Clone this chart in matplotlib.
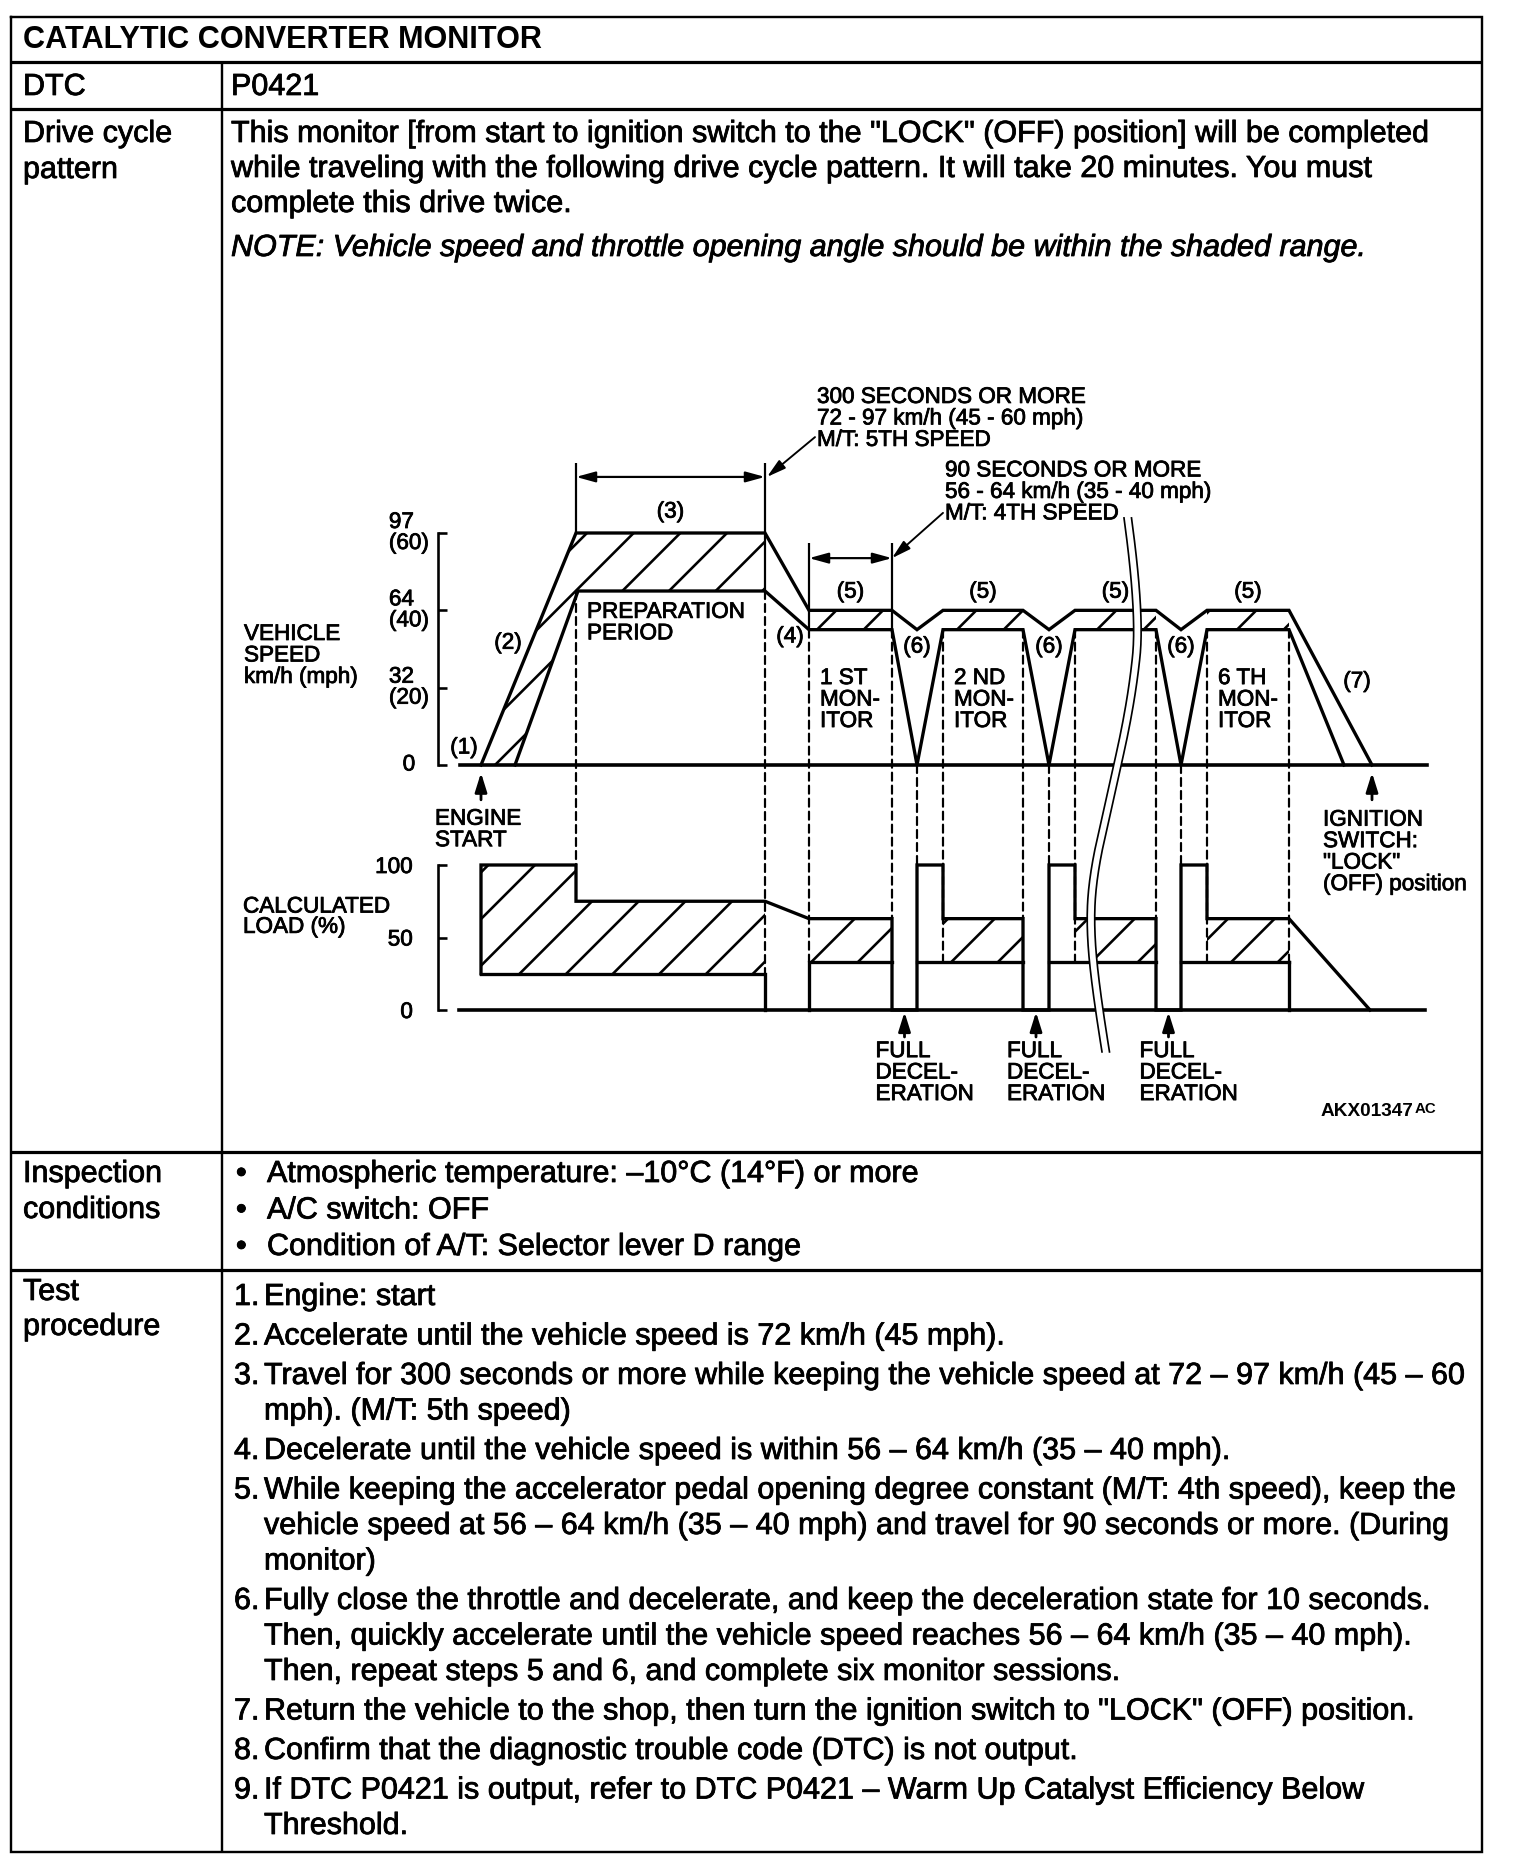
import numpy as np
import matplotlib
matplotlib.use("Agg")
import matplotlib.pyplot as plt
import matplotlib.patheffects as pe
from matplotlib.patches import Polygon, Rectangle, ConnectionPatch

DPI = 140
W, H = 1520, 1866


def pt(px):
    # pixels -> points at the output dpi
    return px * 72.0 / DPI


plt.rcParams["font.family"] = ["Liberation Sans", "DejaVu Sans"]
plt.rcParams["hatch.linewidth"] = pt(2.6)
plt.rcParams["lines.scale_dashes"] = False
plt.rcParams["lines.solid_joinstyle"] = "miter"

# ---------------- data ----------------
# schematic time axis in arbitrary units, engine start = 0
t_accel = 9.5
t_prep = 28.4
monitor_t = [(32.8, 41.1), (46.2, 54.2), (59.4, 67.5), (72.6, 80.8)]
decel_t = [43.6, 56.8, 70.0]
t_ign_off = 89.1

# vehicle speed window (mph scale, 0/20/40/60 equally spaced)
spd_upper_t = [0.0, 9.5, 28.4, 32.8, 41.1, 43.6, 46.2, 54.2, 56.8, 59.4, 67.5, 70.0, 72.6, 80.8, 89.1]
spd_upper_mph = [0, 60, 60, 40, 40, 35, 40, 40, 35, 40, 40, 35, 40, 40, 0]
spd_lower_t = [3.4, 9.7, 28.4, 32.8, 41.1, 43.6, 46.2, 54.2, 56.8, 59.4, 67.5, 70.0, 72.6, 80.8, 86.3]
spd_lower_mph = [0, 45, 45, 35, 35, 0, 35, 35, 0, 35, 35, 0, 35, 35, 0]
prep_band = (45, 60)
mon_band = (35, 40)

speed_ticks = [0, 20, 40, 60]
speed_tick_labels = ["0", "32\n(20)", "64\n(40)", "97\n(60)"]

# calculated load (%)
load_upper_t = [0, 0, 9.5, 9.5, 28.4, 32.8, 41.1, 41.1, 43.6, 43.6, 46.2, 46.2, 54.2, 54.2,
                56.8, 56.8, 59.4, 59.4, 67.5, 67.5, 70.0, 70.0, 72.6, 72.6, 80.8, 88.9]
load_upper_pct = [25, 100, 100, 75, 75, 63, 63, 0, 0, 100, 100, 63, 63, 0,
                  0, 100, 100, 63, 63, 0, 0, 100, 100, 63, 63, 0]
load_prep_lo = 25
load_mon_band = (33, 63)
load_ticks = [0, 50, 100]
load_tick_labels = ["0", "50", "100"]

# wavy break symbol (speed-axis units)
brk_t = [64.3, 65.6, 64.7, 62.5, 60.9, 60.5, 61.1, 62.1]
brk_v = [63.9, 39.3, 16.8, -9.1, -27.2, -40.9, -58.2, -74.2]

title = "CATALYTIC CONVERTER MONITOR"
body_lines = [
    'This monitor [from start to ignition switch to the "LOCK" (OFF) position] will be completed',
    "while traveling with the following drive cycle pattern. It will take 20 minutes. You must",
    "complete this drive twice.",
]
note = "NOTE: Vehicle speed and throttle opening angle should be within the shaded range."
conditions = [
    "Atmospheric temperature: \u201310\u00b0C (14\u00b0F) or more",
    "A/C switch: OFF",
    "Condition of A/T: Selector lever D range",
]
steps = [
    ["Engine: start"],
    ["Accelerate until the vehicle speed is 72 km/h (45 mph)."],
    ["Travel for 300 seconds or more while keeping the vehicle speed at 72 \u2013 97 km/h (45 \u2013 60",
     "mph). (M/T: 5th speed)"],
    ["Decelerate until the vehicle speed is within 56 \u2013 64 km/h (35 \u2013 40 mph)."],
    ["While keeping the accelerator pedal opening degree constant (M/T: 4th speed), keep the",
     "vehicle speed at 56 \u2013 64 km/h (35 \u2013 40 mph) and travel for 90 seconds or more. (During",
     "monitor)"],
    ["Fully close the throttle and decelerate, and keep the deceleration state for 10 seconds.",
     "Then, quickly accelerate until the vehicle speed reaches 56 \u2013 64 km/h (35 \u2013 40 mph).",
     "Then, repeat steps 5 and 6, and complete six monitor sessions."],
    ['Return the vehicle to the shop, then turn the ignition switch to "LOCK" (OFF) position.'],
    ["Confirm that the diagnostic trouble code (DTC) is not output."],
    ["If DTC P0421 is output, refer to DTC P0421 \u2013 Warm Up Catalyst Efficiency Below",
     "Threshold."],
]
monitor_names = ["1 ST\nMON-\nITOR", "2 ND\nMON-\nITOR", None, "6 TH\nMON-\nITOR"]

# ---------------- layout ----------------
X0PX, XS = 481, 10.0          # px of t=0, px per time unit
S0PX, SS = 765, 232 / 60.0    # px of 0 mph, px per mph
L0PX, LS = 1010, 1.45         # px of 0 %, px per %
XMIN, XMAX = -6, 96
SMIN, SMAX = -5, 82
LMIN, LMAX = -8, 106

LW = pt(3.3)
DASH = (0, (pt(8), pt(5)))
FS_CHART = pt(22.5)
FS_BODY = pt(30.5)
FS_HEAD = pt(30.6)
BODY_FX = [pe.withStroke(linewidth=pt(0.8), foreground="k")]
CHART_FX = [pe.withStroke(linewidth=pt(0.8), foreground="k")]


def axes_rect(y0px, yscale, ymin, ymax):
    top_px = y0px - yscale * ymax
    bot_px = y0px - yscale * ymin
    return [(X0PX + XS * XMIN) / W, 1 - bot_px / H,
            XS * (XMAX - XMIN) / W, (bot_px - top_px) / H]


fig = plt.figure(figsize=(W / DPI, H / DPI), dpi=DPI)
bg = fig.add_axes([0, 0, 1, 1], zorder=0)
bg.set_xlim(0, W)
bg.set_ylim(H, 0)
bg.axis("off")

ax_l = fig.add_axes(axes_rect(L0PX, LS, LMIN, LMAX), zorder=1)
ax_s = fig.add_axes(axes_rect(S0PX, SS, SMIN, SMAX), zorder=3)

# ---------------- table frame ----------------
L, R, TOP, BOT, COL = 11, 1482, 17, 1852, 222
rows = [62, 109, 1152, 1270]
bg.plot([L, R, R, L, L], [TOP, TOP, BOT, BOT, TOP], color="k", lw=pt(2.4))
bg.hlines(rows, L, R, color="k", lw=pt(3.2))
bg.vlines(COL, rows[0], BOT, color="k", lw=pt(2.4))


def tline(x, y, s, fs=FS_BODY, fx=BODY_FX, **kw):
    bg.text(x, y + 0.36 * fs * DPI / 72, s, fontsize=fs, va="baseline", ha="left",
            path_effects=fx, **kw)


tline(23, 37, title, fs=FS_HEAD, weight="bold", fx=None)
tline(23, 84, "DTC")
tline(231, 84, "P0421")
tline(23, 131, "Drive cycle")
tline(23, 167, "pattern")
for i, s in enumerate(body_lines):
    tline(231, 131 + 35 * i, s)
tline(231, 245, note, style="italic")

tline(23, 1171, "Inspection")
tline(23, 1207, "conditions")
for i, s in enumerate(conditions):
    tline(236, 1171 + 36.5 * i, "\u2022")
    tline(267, 1171 + 36.5 * i, s)

tline(23, 1289, "Test")
tline(23, 1324, "procedure")
y = 1294
for n, lines in enumerate(steps, start=1):
    tline(234, y, f"{n}.")
    for j, s in enumerate(lines):
        tline(264, y, s)
        y += 35.5 if j < len(lines) - 1 else 39.5

# ---------------- speed chart ----------------
for ax in (ax_s, ax_l):
    ax.set_xlim(XMIN, XMAX)
    ax.set_facecolor("none")
    for side in ("top", "right", "bottom"):
        ax.spines[side].set_visible(False)
    ax.spines["left"].set_position(("data", -4.3))
    ax.spines["left"].set_linewidth(pt(2.6))
    ax.set_xticks([])
    ax.tick_params(axis="y", direction="in", length=pt(9), width=pt(2.6),
                   labelsize=FS_CHART)

ax_s.set_ylim(SMIN, SMAX)
ax_s.spines["left"].set_bounds(0, 60)
ax_s.set_yticks(speed_ticks, speed_tick_labels)
ax_s.tick_params(axis="y", pad=pt(29))
plt.setp(ax_s.get_yticklabels(), ha="center", va="center", multialignment="left",
         linespacing=1.0, path_effects=CHART_FX)

prep_poly = list(zip(spd_upper_t[:3], spd_upper_mph[:3])) + \
    list(zip(spd_lower_t[:3], spd_lower_mph[:3]))[::-1]
ax_s.add_patch(Polygon(prep_poly, closed=True, facecolor="none", edgecolor="k",
                       lw=0, hatch="/"))
for s, e in monitor_t:
    ax_s.add_patch(Rectangle((s, mon_band[0]), e - s, mon_band[1] - mon_band[0],
                             facecolor="none", edgecolor="k", lw=0, hatch="/"))

ax_s.plot(spd_upper_t, spd_upper_mph, color="k", lw=LW)
ax_s.plot(spd_lower_t, spd_lower_mph, color="k", lw=LW)
ax_s.plot([-2.1, 94.6], [0, 0], color="k", lw=pt(3.6))

# extension lines and dimension arrows
ax_s.vlines(t_accel, prep_band[1], 78.1, color="k", lw=pt(2.2))
ax_s.vlines(t_prep, prep_band[0], 78.1, color="k", lw=pt(2.2))
ax_s.vlines(monitor_t[0], mon_band[0], 57.4, color="k", lw=pt(2.2))
arrow2 = dict(arrowstyle="<|-|>,head_length=0.8,head_width=0.22", color="k",
              lw=pt(2.2), shrinkA=0, shrinkB=0, mutation_scale=pt(20))
arrow1 = dict(arrowstyle="-|>,head_length=0.8,head_width=0.22", color="k",
              lw=pt(1.9), shrinkA=0, shrinkB=0, mutation_scale=pt(20))
ax_s.annotate("", xy=(t_accel, 74.5), xytext=(t_prep, 74.5), arrowprops=arrow2)
ax_s.annotate("", xy=(monitor_t[0][0], 53.5), xytext=(monitor_t[0][1], 53.5),
              arrowprops=arrow2)
ax_s.annotate("", xy=(t_prep + 0.2, 74.5), xytext=(33.4, 84.8), arrowprops=arrow1)
ax_s.annotate("", xy=(monitor_t[0][1], 53.5), xytext=(46.2, 65.2), arrowprops=arrow1)

txt = dict(fontsize=FS_CHART, color="k", linespacing=1.03, path_effects=CHART_FX)
ax_s.text(33.6, 89.5, "300 SECONDS OR MORE\n72 - 97 km/h (45 - 60 mph)\nM/T: 5TH SPEED",
          ha="left", va="center", **txt)
ax_s.text(46.4, 70.5, "90 SECONDS OR MORE\n56 - 64 km/h (35 - 40 mph)\nM/T: 4TH SPEED",
          ha="left", va="center", **txt)
ax_s.text(-1.7, 4.4, "(1)", ha="center", va="center", **txt)
ax_s.text(2.7, 31.5, "(2)", ha="center", va="center", **txt)
ax_s.text((t_accel + t_prep) / 2, 65.4, "(3)", ha="center", va="center", **txt)
ax_s.text(30.9, 33.1, "(4)", ha="center", va="center", **txt)
for (s, e), name in zip(monitor_t, monitor_names):
    ax_s.text((s + e) / 2, 44.7, "(5)", ha="center", va="center", **txt)
    if name:
        ax_s.text(s + 1.1, 16.8, name, ha="left", va="center", **txt)
for d in decel_t:
    ax_s.text(d, 30.5, "(6)", ha="center", va="center", **txt)
ax_s.text(87.6, 21.5, "(7)", ha="center", va="center", **txt)
ax_s.text(10.6, 36.7, "PREPARATION\nPERIOD", ha="left", va="center", **txt)
ax_s.text(-23.7, 28.2, "VEHICLE\nSPEED\nkm/h (mph)", ha="left", va="center", **txt)
ax_s.text(-4.6, -16.8, "ENGINE\nSTART", ha="left", va="center", **txt)
ax_s.text(84.2, -22.6, 'IGNITION\nSWITCH:\n"LOCK"\n(OFF) position', ha="left",
          va="center", **txt)
up = dict(arrowstyle="-|>,head_length=0.8,head_width=0.25", color="k", lw=pt(2.8),
          shrinkA=0, shrinkB=0, mutation_scale=pt(20))
ax_s.annotate("", xy=(0, -2.0), xytext=(0, -9.0), arrowprops=up, annotation_clip=False)
ax_s.annotate("", xy=(t_ign_off, -2.0), xytext=(t_ign_off, -9.0), arrowprops=up,
              annotation_clip=False)

# ---------------- load chart ----------------
ax_l.set_ylim(LMIN, LMAX)
ax_l.spines["left"].set_bounds(0, 100)
ax_l.set_yticks(load_ticks, load_tick_labels)
ax_l.tick_params(axis="y", pad=pt(25))
plt.setp(ax_l.get_yticklabels(), path_effects=CHART_FX)

prep_load = [(0, load_prep_lo)] + list(zip(load_upper_t[1:5], load_upper_pct[1:5])) + \
    [(t_prep, load_prep_lo)]
ax_l.add_patch(Polygon(prep_load, closed=True, facecolor="none", edgecolor="k",
                       lw=0, hatch="/"))
for s, e in monitor_t:
    ax_l.add_patch(Rectangle((s, load_mon_band[0]), e - s,
                             load_mon_band[1] - load_mon_band[0],
                             facecolor="none", edgecolor="k", lw=0, hatch="/"))

ax_l.plot(load_upper_t, load_upper_pct, color="k", lw=LW)
ax_l.plot([0, t_prep, t_prep], [load_prep_lo, load_prep_lo, 0], color="k", lw=LW)
lo = load_mon_band[0]
ax_l.plot([monitor_t[0][0], monitor_t[0][0], monitor_t[0][1]], [0, lo, lo], color="k", lw=LW)
for d, (s, e) in zip(decel_t, monitor_t[1:]):
    ax_l.plot([d, e], [lo, lo], color="k", lw=LW)
ax_l.plot([monitor_t[-1][1]] * 2, [lo, 0], color="k", lw=LW)
ax_l.plot([-2.2, 94.4], [0, 0], color="k", lw=pt(3.6))

ax_l.text(-23.8, 71.0, "CALCULATED", ha="left", va="center", **txt)
ax_l.text(-23.8, 57.0, "LOAD (%)", ha="left", va="center", **txt)
for d, (s, e) in zip(decel_t, monitor_t):
    c = (e + d) / 2
    ax_l.annotate("", xy=(c, -1.4), xytext=(c, -18.6), arrowprops=up,
                  annotation_clip=False)
    ax_l.text(c - 2.9, -43.5, "FULL\nDECEL-\nERATION", ha="left", va="center", **txt)
ax_l.text(93.2, -70.3, "AKX01347", ha="right", va="center", fontsize=pt(19), weight="bold")
ax_l.text(93.4, -68.0, "AC", ha="left", va="center", fontsize=pt(15), weight="bold")

# ---------------- dashed guides between the two charts ----------------
links = [(t_accel, prep_band[0], 100), (t_prep, prep_band[0], load_prep_lo),
         (monitor_t[0][0], mon_band[0], lo)]
for i, (s, e) in enumerate(monitor_t):
    if i > 0:
        links.append((s, mon_band[0], lo))
    links.append((e, mon_band[0], load_mon_band[1] if i < 3 else lo))
for d in decel_t:
    links.append((d, 0, 100))
for t, vs, vl in links:
    fig.add_artist(ConnectionPatch(xyA=(t, vs), coordsA=ax_s.transData,
                                   xyB=(t, vl), coordsB=ax_l.transData,
                                   color="k", lw=pt(2.2), linestyle=DASH, zorder=2))


# ---------------- wavy break ----------------
def smooth(xs, ys, n=25):
    p = np.column_stack([xs, ys]).astype(float)
    out = []
    for i in range(1, len(p) - 1):
        a = p[0] if i == 1 else (p[i - 1] + p[i]) / 2
        c = p[-1] if i == len(p) - 2 else (p[i] + p[i + 1]) / 2
        s = np.linspace(0, 1, n)[:, None]
        out.append((1 - s) ** 2 * a + 2 * (1 - s) * s * p[i] + s ** 2 * c)
    return np.vstack(out)


c1 = smooth(brk_t, brk_v)
c2 = c1 + [0.75, 0]
ax_s.add_patch(Polygon(np.vstack([c1, c2[::-1]]), closed=True, facecolor="white",
                       edgecolor="none", clip_on=False, zorder=9))
for c in (c1, c2):
    ax_s.plot(c[:, 0], c[:, 1], color="k", lw=pt(1.7), clip_on=False, zorder=10)

fig.savefig("out.png", dpi=DPI)
